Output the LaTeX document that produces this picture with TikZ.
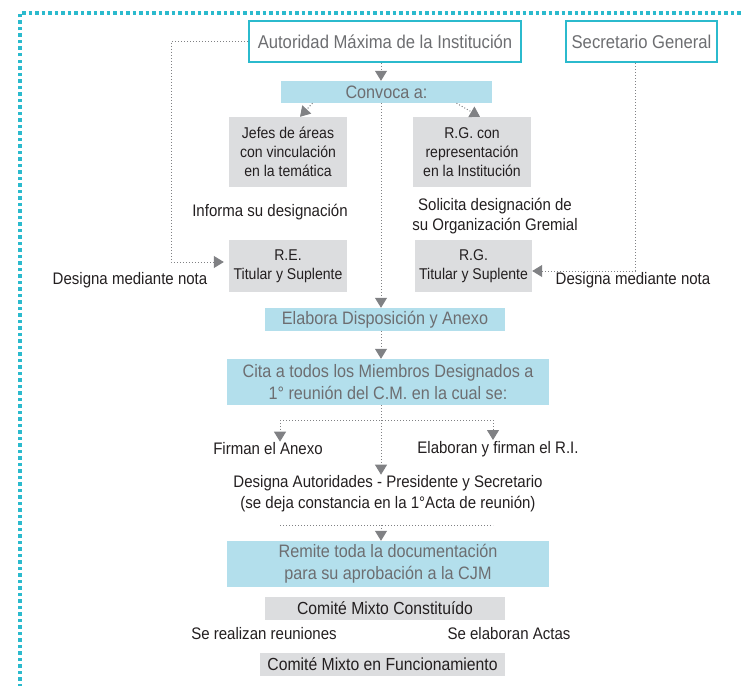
\documentclass[tikz,border=0pt]{standalone}
\usepackage{fontspec}
\setmainfont[FakeStretch=0.9]{Liberation Sans}
\usetikzlibrary{arrows.meta}
\definecolor{teal}{HTML}{2BBACD}
\definecolor{lblue}{HTML}{B3DFEC}
\definecolor{gbox}{HTML}{DCDDDF}
\definecolor{gtext}{HTML}{6D6E71}
\definecolor{dtext}{HTML}{231F20}
\definecolor{conn}{HTML}{808184}
\tikzset{
  x=1pt, y=-1pt,
  topbox/.style={draw=teal, line width=2.5pt, fill=white, text=gtext, font=\fontsize{18.5}{21}\selectfont, inner sep=0pt},
  bluebox/.style={fill=lblue, text=gtext, font=\fontsize{18}{21.7}\selectfont, inner sep=0pt, align=center},
  greybox/.style={fill=gbox, text=dtext, font=\fontsize{15.6}{19}\selectfont, inner sep=0pt, align=center},
  greybig/.style={fill=gbox, text=dtext, font=\fontsize{17.5}{19}\selectfont, inner sep=0pt, align=center},
  free/.style={text=dtext, font=\fontsize{16.7}{20.7}\selectfont, inner sep=1pt, align=center},
  dotline/.style={draw=conn, line width=1pt, dotted},
  arr/.style={dotline, -{Triangle[width=12pt,length=10pt]}, conn},
}
\begin{document}
\begin{tikzpicture}
\useasboundingbox (0,0) rectangle (743,685);
% dotted frame
\draw[teal, line width=4pt, dash pattern=on 3.5pt off 3pt] (20,700) -- (20,13) -- (760,13);

\coordinate (mid) at (381,0);
\node[topbox, minimum width=272, minimum height=41] (aut) at (385,41.5) {Autoridad Máxima de la Institución};
\node[topbox, minimum width=151, minimum height=41] (sec) at (641.5,41.5) {Secretario General};
\node[bluebox, minimum width=211, minimum height=22] (conv) at (386.5,92) {Convoca a:};
\node[greybox, minimum width=118, minimum height=70] (jef) at (288,152) {Jefes de áreas\\con vinculación\\en la temática};
\node[greybox, minimum width=118, minimum height=70] (rgc) at (472,152) {R.G. con\\representación\\en la Institución};
\node[free] (inf) at (270,212) {Informa su designación};
\node[free, font=\fontsize{16.7}{19.3}\selectfont] (sol) at (495,216) {Solicita designación de\\su Organización Gremial};
\node[greybox, minimum width=118, minimum height=52] (re) at (288,266) {R.E.\\Titular y Suplente};
\node[greybox, minimum width=117, minimum height=52] (rg) at (473.5,266) {R.G.\\Titular y Suplente};
\node[free] (dl) at (130,280) {Designa mediante nota};
\node[free] (dr) at (633,280) {Designa mediante nota};
\node[bluebox, minimum width=240, minimum height=23] (ela) at (385,319.5) {Elabora Disposición y Anexo};
\node[bluebox, minimum width=322, minimum height=46] (cita) at (388,382) {Cita a todos los Miembros Designados a\\1° reunión del C.M. en la cual se:};
\node[free] (fir) at (268,449) {Firman el Anexo};
\node[free] (elr) at (498,449) {Elaboran y firman el R.I.};
\node[free] (des) at (388,494) {Designa Autoridades - Presidente y Secretario\\(se deja constancia en la 1°Acta de reunión)};
\node[bluebox, minimum width=322, minimum height=46] (rem) at (388,564) {Remite toda la documentación\\para su aprobación a la CJM};
\node[greybig, minimum width=240, minimum height=23] (con) at (385,608.5) {Comité Mixto Constituído};
\node[free] (reu) at (264,634) {Se realizan reuniones};
\node[free] (act) at (509,634) {Se elaboran Actas};
\node[greybig, minimum width=245, minimum height=23] (fun) at (382.5,664.5) {Comité Mixto en Funcionamiento};

% connectors
\draw[arr] (aut.south -| mid) -- (conv.north -| mid);
\draw[arr] ([xshift=-74pt]conv.south) -- ([xshift=12pt]jef.north);
\draw[arr] ([xshift=70pt]conv.south) -- ([xshift=8pt]rgc.north);
\draw[arr] (conv.south -| mid) -- (ela.north -| mid);
\coordinate (lx) at (171,0);
\draw[arr] (aut.west) -| (lx |- 0,262) -- ([xshift=-5pt]re.west |- 0,262);
\coordinate (rx) at (635,0);
\draw[arr] (sec.south -| rx) |- ([yshift=-5pt]rg.east);
\draw[arr] (ela.south -| mid) -- (cita.north -| mid);
\coordinate (spl) at (381,420);
\coordinate (la) at (280,420);
\coordinate (ra) at (493,420);
\draw[dotline] (cita.south -| mid) -- (spl);
\draw[dotline] (la) -- (ra);
\draw[arr] (la) -- (la |- fir.north);
\draw[arr] (ra) -- (ra |- elr.north);
\draw[arr] (spl) -- (des.north -| mid);
\coordinate (jl) at (280,525);
\coordinate (jr) at (493,525);
\coordinate (jm) at (381,525);
\draw[dotline] (jl) -- (jr);
\draw[arr] (jm) -- (rem.north -| mid);
\end{tikzpicture}
\end{document}
